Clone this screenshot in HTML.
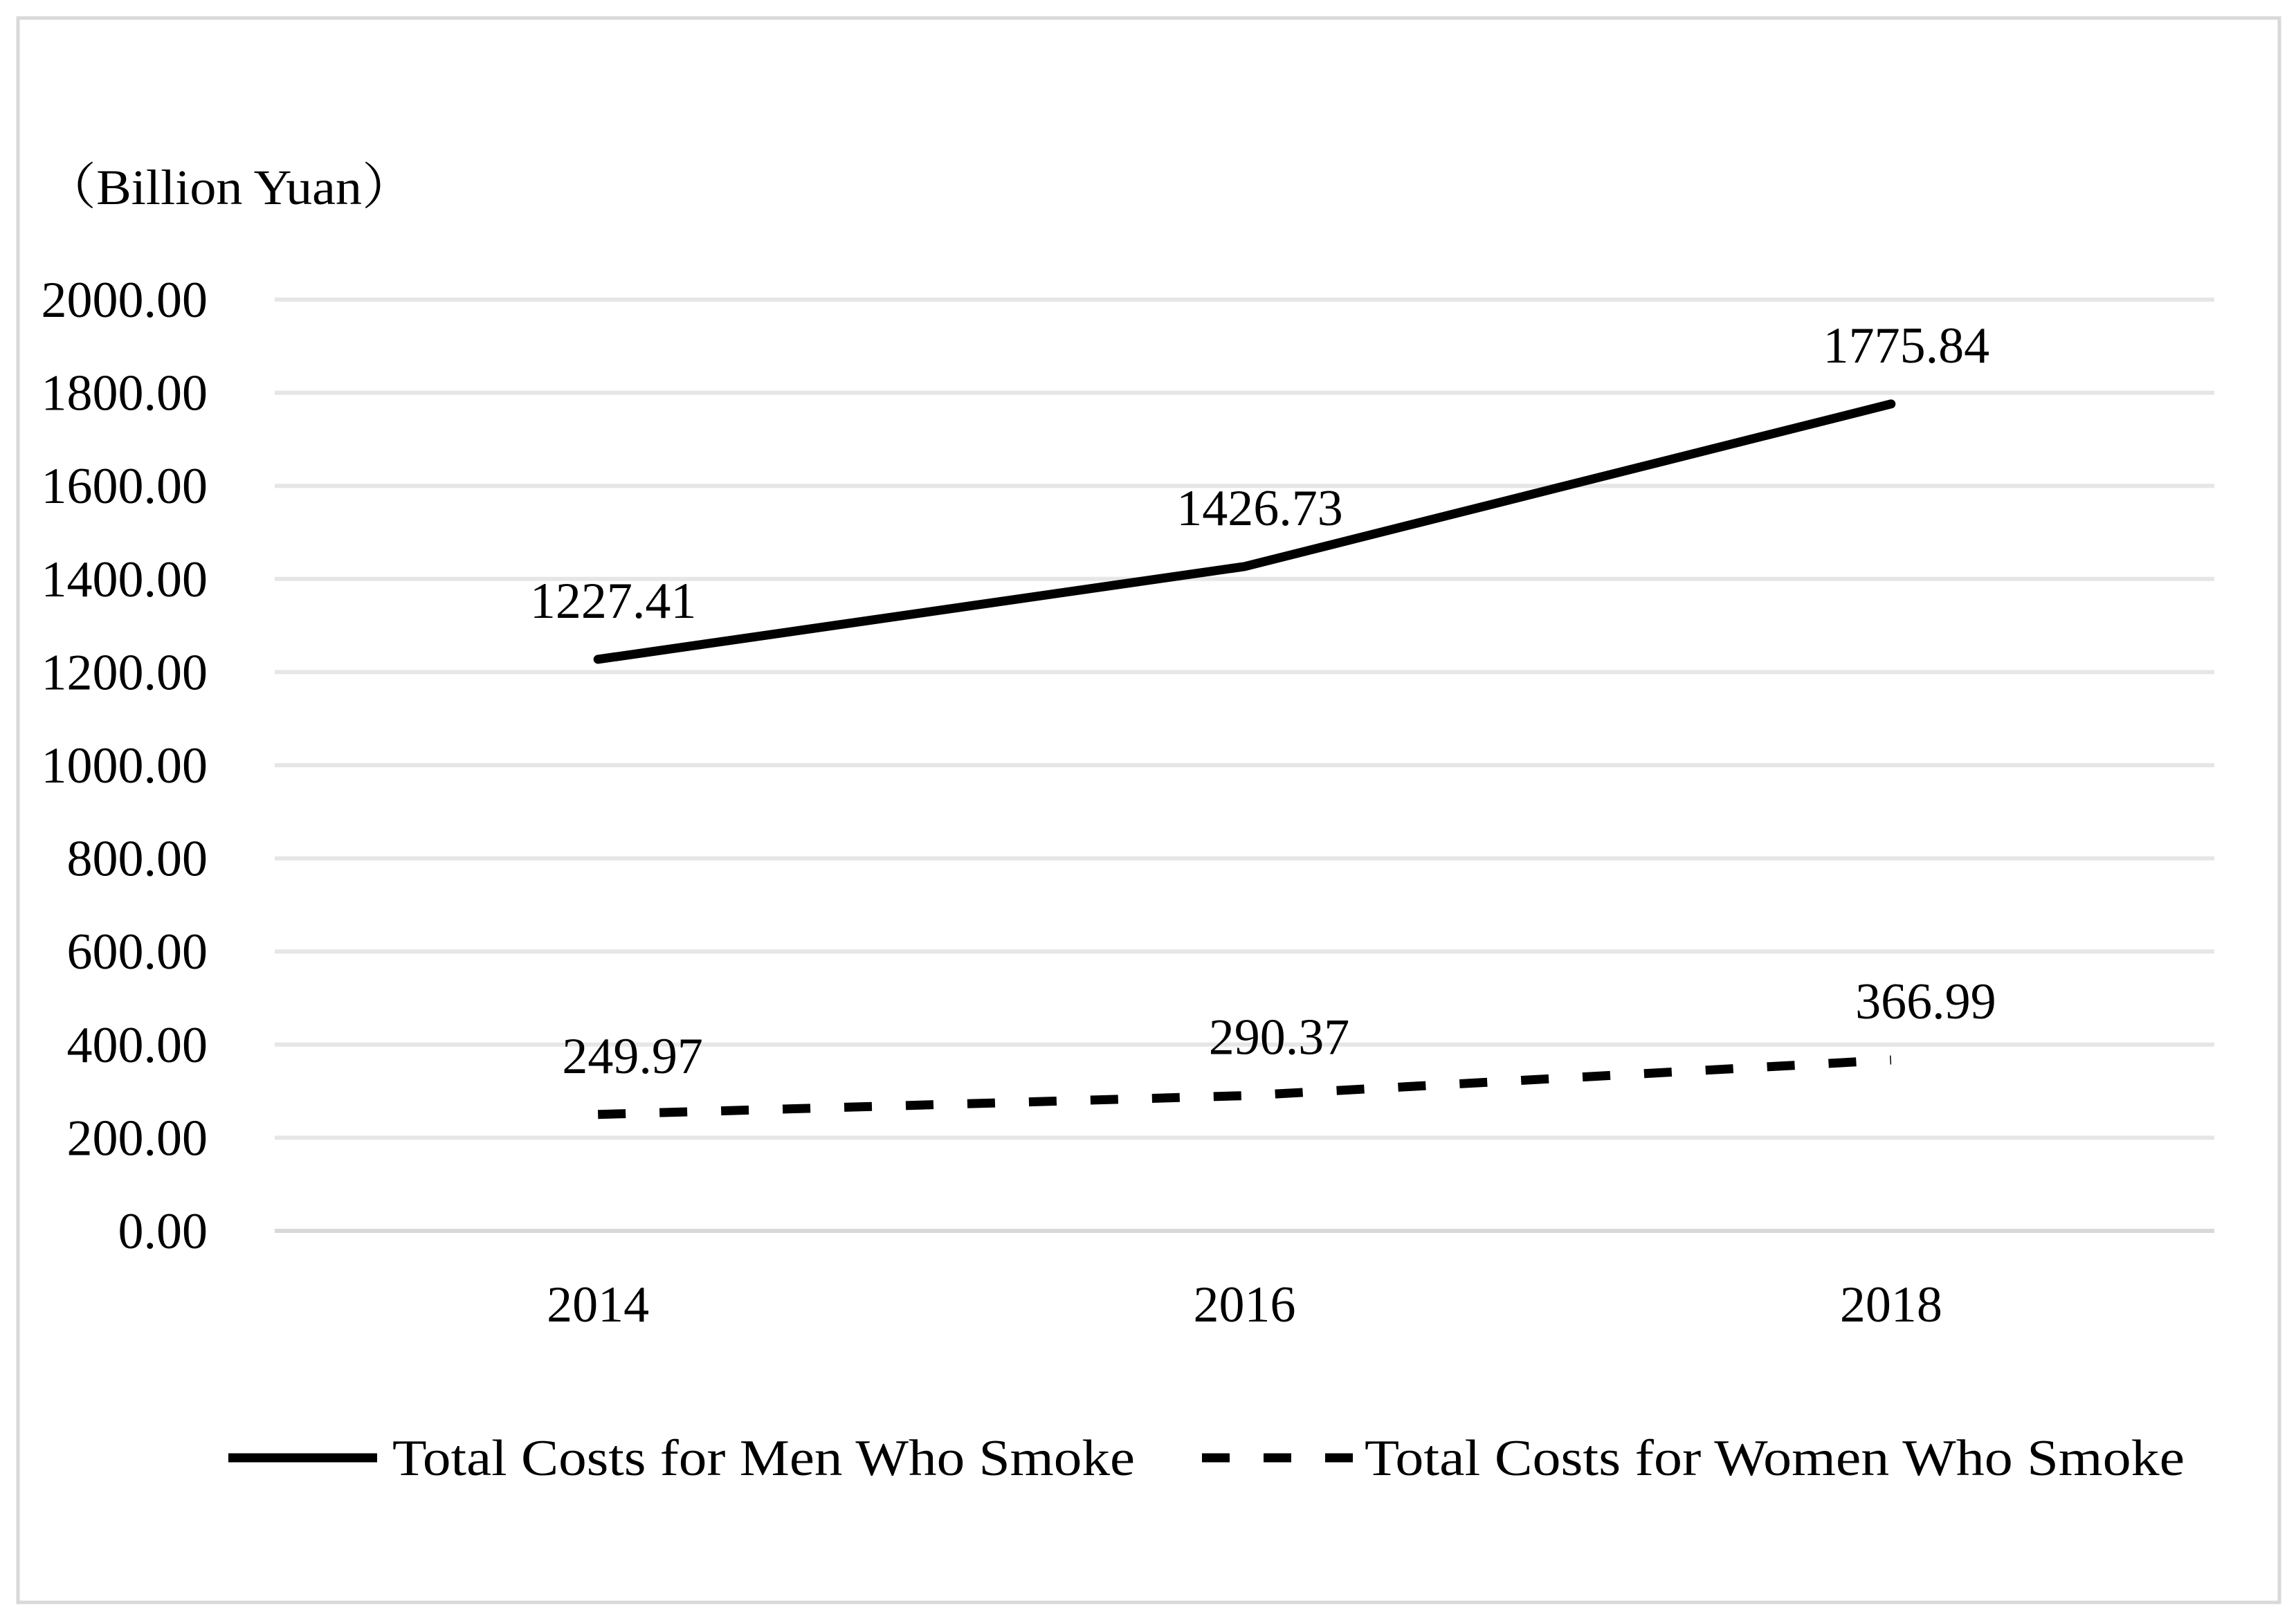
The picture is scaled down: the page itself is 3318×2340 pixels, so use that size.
<!DOCTYPE html>
<html><head><meta charset="utf-8"><style>
html,body{margin:0;padding:0;background:#fff;}
svg{display:block;}
text{font-family:"Liberation Serif","Noto Serif CJK SC",serif;fill:#000;}
</style></head><body>
<svg id="chart" width="3318" height="2340" viewBox="0 0 3318 2340">
<rect x="26" y="26" width="3268" height="2290" fill="#fff" stroke="#d9d9d9" stroke-width="5"/>
<text x="63" y="295" font-size="72" textLength="536" lengthAdjust="spacingAndGlyphs">（Billion Yuan）</text>
<g id="grid"></g><g id="yticks"></g><g id="xticks"></g><g id="series"></g><g id="labels"></g>
<g>
<line x1="330" y1="2107" x2="545" y2="2107" stroke="#000" stroke-width="13"/>
<text x="567" y="2132" font-size="74" textLength="1073" lengthAdjust="spacingAndGlyphs">Total Costs for Men Who Smoke</text>
<line x1="1737" y1="2107" x2="1957" y2="2107" stroke="#000" stroke-width="13" stroke-dasharray="40 49"/>
<text x="1972" y="2132" font-size="74" textLength="1185" lengthAdjust="spacingAndGlyphs">Total Costs for Women Who Smoke</text>
</g>
</svg>
<script>
const categories = ["2014","2016","2018"];
const menValues = [1227.41, 1426.73, 1775.84];
const womenValues = [249.97, 290.37, 366.99];
const yTicks = [0,200,400,600,800,1000,1200,1400,1600,1800,2000];

const NS="http://www.w3.org/2000/svg";
const plotL=397, plotR=3200, yTop=433, yBot=1779, yMax=2000;
const step=(plotR-plotL)/categories.length;
const xs=i=>plotL+step*(i+0.5);
const ys=v=>yBot-(v/yMax)*(yBot-yTop);
function mk(tag,attrs,parent,txt){const e=document.createElementNS(NS,tag);for(const k in attrs)e.setAttribute(k,attrs[k]);if(txt!==undefined)e.textContent=txt;parent.appendChild(e);return e;}
const grid=document.getElementById('grid'),yt=document.getElementById('yticks'),xt=document.getElementById('xticks'),ser=document.getElementById('series'),lab=document.getElementById('labels');
yTicks.forEach(v=>{
  const l=mk('line',{x1:plotL,x2:plotR,y1:ys(v),y2:ys(v),stroke:v===0?'#d9d9d9':'#e6e6e6','stroke-width':6},grid);
  
  
  const t=mk('text',{x:300,y:ys(v)+25,'font-size':74,'text-anchor':'end'},yt,v.toFixed(2));
  
  
});
categories.forEach((c,i)=>{
  const t=mk('text',{x:xs(i),y:1910,'font-size':74,'text-anchor':'middle'},xt,c);
  
  
});
function series(vals,name,dash){
  const pts=vals.map((v,i)=>xs(i)+','+ys(v)).join(' ');
  const attrs={points:pts,fill:'none',stroke:'#000','stroke-width':13,'stroke-linejoin':'round','stroke-linecap':dash?'butt':'round'};
  if(dash)attrs['stroke-dasharray']='40 49';
  const p=mk('polyline',attrs,ser);
  
  
  vals.forEach((v,i)=>{
    const t=mk('text',{x:xs(i)+(dash?50:22),y:ys(v)-60,'font-size':74,'text-anchor':'middle'},lab,v.toFixed(2));
    
    
  });
}
series(menValues,'men',false);
series(womenValues,'women',true);
</script>
</body></html>
